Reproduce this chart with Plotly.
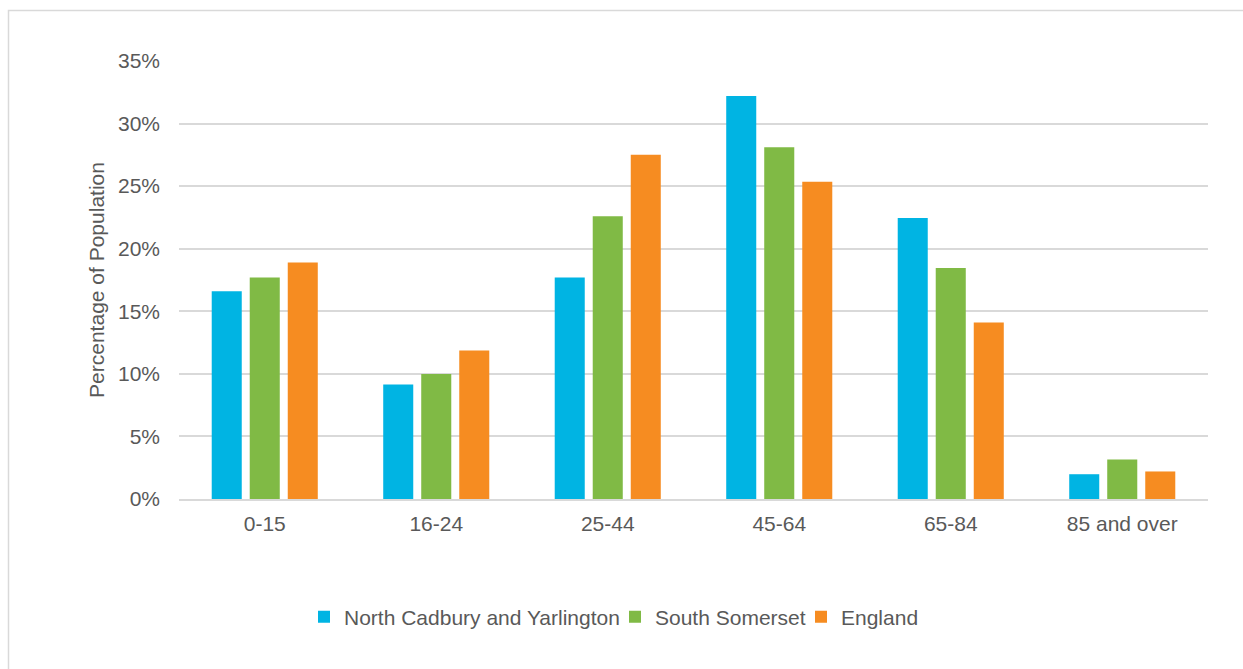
import plotly.graph_objects as go

categories = ["0-15", "16-24", "25-44", "45-64", "65-84", "85 and over"]
north_cadbury = [16.6, 9.15, 17.7, 32.2, 22.45, 1.98]
south_somerset = [17.7, 9.98, 22.6, 28.1, 18.46, 3.15]
england = [18.9, 11.87, 27.5, 25.36, 14.1, 2.2]

series_names = ["North Cadbury and Yarlington", "South Somerset", "England"]
colors = ["#00B4E3", "#80BA45", "#F68C21"]
legend_widths = [266, 141, 80]

W, H = 1243, 669
L, R, T, B = 179, 35, 61, 170
pw, ph = W - L - R, H - T - B

def px_x(v):
    return (v - L) / pw

def px_y(v):
    return (H - B - v) / ph

text_color = "#595959"
font_family = "Liberation Sans, Arial, sans-serif"

fig = go.Figure()
for name, vals, col, lw in zip(series_names, [north_cadbury, south_somerset, england], colors, legend_widths):
    fig.add_trace(go.Bar(
        x=categories, y=vals, name=name,
        marker=dict(color=col, line=dict(width=0)),
        legendwidth=lw,
    ))

fig.update_layout(
    width=W, height=H,
    margin=dict(l=L, r=R, t=T, b=B, pad=0),
    paper_bgcolor="white", plot_bgcolor="white",
    barmode="group", bargap=0.335, bargroupgap=0.21,
    font=dict(family=font_family, size=21, color=text_color),
    showlegend=True,
    legend=dict(
        orientation="h", x=px_x(304), xanchor="left",
        y=px_y(617), yanchor="middle",
        font=dict(size=21, color=text_color),
        itemwidth=30, tracegroupgap=0, traceorder="normal",
    ),
    xaxis=dict(
        showgrid=False, showline=True, linecolor="#D9D9D9", linewidth=1.5,
        ticks="", tickfont=dict(size=21, color=text_color),
        ticklabelstandoff=5,
    ),
    yaxis=dict(
        range=[0, 35], dtick=5, ticksuffix="%",
        showgrid=True, gridcolor="#D9D9D9", gridwidth=1.5,
        zeroline=False, showline=False, ticks="",
        tickfont=dict(size=21, color=text_color),
        ticklabelstandoff=18,
        title=dict(text="Percentage of Population", font=dict(size=21, color=text_color), standoff=7),
    ),
    shapes=[dict(
        type="rect", xref="paper", yref="paper",
        x0=px_x(8.5), x1=px_x(1260), y0=px_y(10.5), y1=px_y(700),
        line=dict(color="#D9D9D9", width=1.5), fillcolor="rgba(0,0,0,0)", layer="below",
    )],
)

fig.write_html("out.html")
